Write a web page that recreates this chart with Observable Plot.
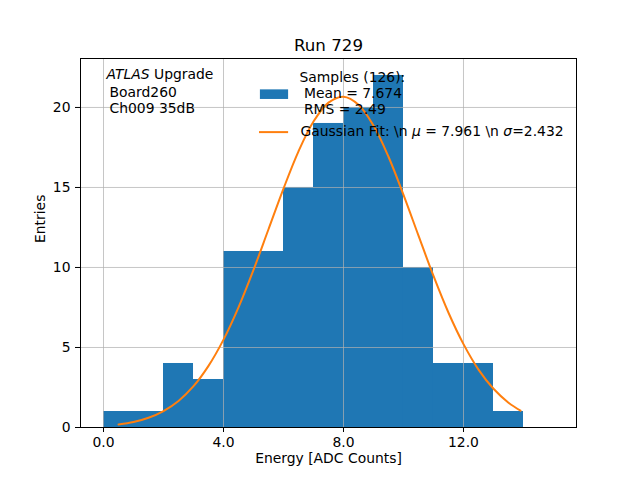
<!DOCTYPE html>
<html><head><meta charset="utf-8">
<script src="https://cdn.jsdelivr.net/npm/d3@7"></script>
<script src="https://cdn.jsdelivr.net/npm/@observablehq/plot@0.6"></script>
<style>body{margin:0;background:#fff} svg text{white-space:pre}</style>
</head><body><div id="chart"></div>
<script>
// Histogram bins (width 1) and counts
const binStarts = [0,1,2,3,4,5,6,7,8,9,10,11,12,13];
const binEnds   = [1,2,3,4,5,6,7,8,9,10,11,12,13,14];
const counts    = [1,1,4,3,11,11,15,19,20,22,10,4,4,1];
// Gaussian fit curve
const fitX = [0.5,1.0,1.5,2.0,2.5,3.0,3.5,4.0,4.5,5.0,5.5,6.0,6.5,7.0,7.5,8.0,8.5,9.0,9.5,10.0,10.5,11.0,11.5,12.0,12.5,13.0,13.5,13.9];
const fitY = [0.19,0.34,0.61,1.03,1.66,2.58,3.85,5.49,7.51,9.85,12.39,14.93,17.26,19.12,20.30,20.67,20.17,18.87,16.92,14.54,11.99,9.47,7.17,5.21,3.62,2.42,1.55,1.05];
const xTicks = [0,4,8,12];
const yTicks = [0,5,10,15,20];
const titleText = "Run 729";
const xLabel = "Energy [ADC Counts]";
const yLabel = "Entries";
const infoLines = ["ATLAS Upgrade","Board260","Ch009 35dB"];
const histLabel = ["Samples (126):"," Mean = 7.674"," RMS = 2.49"];
const fitLabel = "Gaussian Fit: \\n μ = 7.961 \\n σ=2.432";

const bins = binStarts.map((s,i)=>({x1:s, x2:binEnds[i], y:counts[i]}));
const fit = fitX.map((x,i)=>({x, y:fitY[i]}));
const FS = 13.9;
const blue = "#1f77b4", orange = "#ff7f0e";

const txt = (s, dx, dy, extra={}) => Plot.text([s], {frameAnchor:"top-left", dx, dy, textAnchor:"start", lineAnchor:"middle", fontSize:FS, fill:"black", ...extra});

const chart = Plot.plot({
  width:640, height:480,
  marginLeft:80, marginRight:64, marginTop:58, marginBottom:53,
  style:{fontFamily:"DejaVu Sans", fontSize:FS+"px", background:"white"},
  x:{domain:[-0.767,15.767]},
  y:{domain:[0,23.06]},
  marks:[
    Plot.rect(bins, {x1:"x1", x2:"x2", y1:0, y2:"y", fill:blue}),
    Plot.gridX(xTicks, {stroke:"#b0b0b0", strokeOpacity:0.9, strokeWidth:0.8}),
    Plot.gridY(yTicks, {stroke:"#b0b0b0", strokeOpacity:0.9, strokeWidth:0.8}),
    Plot.line(fit, {x:"x", y:"y", stroke:orange, strokeWidth:2, curve:"catmull-rom"}),
    Plot.frame({stroke:"black", strokeWidth:1}),
    Plot.axisX(xTicks, {tickFormat:d=>d.toFixed(1), tickSize:5, tickPadding:5, fontSize:FS, label:null, stroke:"black", fill:"black"}),
    Plot.axisY(yTicks, {tickSize:5, tickPadding:5, fontSize:FS, label:null, stroke:"black", fill:"black"}),
    Plot.text([titleText], {frameAnchor:"top", dy:-19, fontSize:16.7, fill:"black"}),
    Plot.text([xLabel], {frameAnchor:"bottom", dy:35, fontSize:FS, fill:"black"}),
    Plot.text([yLabel], {frameAnchor:"left", dx:-40, rotate:-90, fontSize:FS, fill:"black"}),
    txt(infoLines[0], 26, 16),
    txt(infoLines[1], 29, 34),
    txt(infoLines[2], 29, 50),
    Plot.rect([0], {x1:()=>5.23, x2:()=>6.17, y1:()=>21.1, y2:()=>20.5, fill:blue}),
    txt(histLabel[0], 219, 19),
    txt(histLabel[1], 219, 35),
    txt(histLabel[2], 219, 51),
    Plot.ruleY([0], {x1:()=>5.2, x2:()=>6.17, y:()=>18.46, stroke:orange, strokeWidth:2}),
    txt(fitLabel, 220, 73)
  ]
});
document.getElementById("chart").appendChild(chart);

// italicize ATLAS and the Greek symbols
d3.select(chart).selectAll("text").each(function(){
  const t = d3.select(this);
  if (t.selectAll("tspan").size()) return;
  const s = t.text();
  if (!/ATLAS|μ|σ/.test(s)) return;
  const parts = s.split(/(ATLAS|μ|σ)/);
  t.text(null);
  parts.forEach(p => { if (!p) return; const sp = t.append("tspan").text(p); if (/^(ATLAS|μ|σ)$/.test(p)) sp.attr("font-style","italic"); });
});
</script></body></html>
